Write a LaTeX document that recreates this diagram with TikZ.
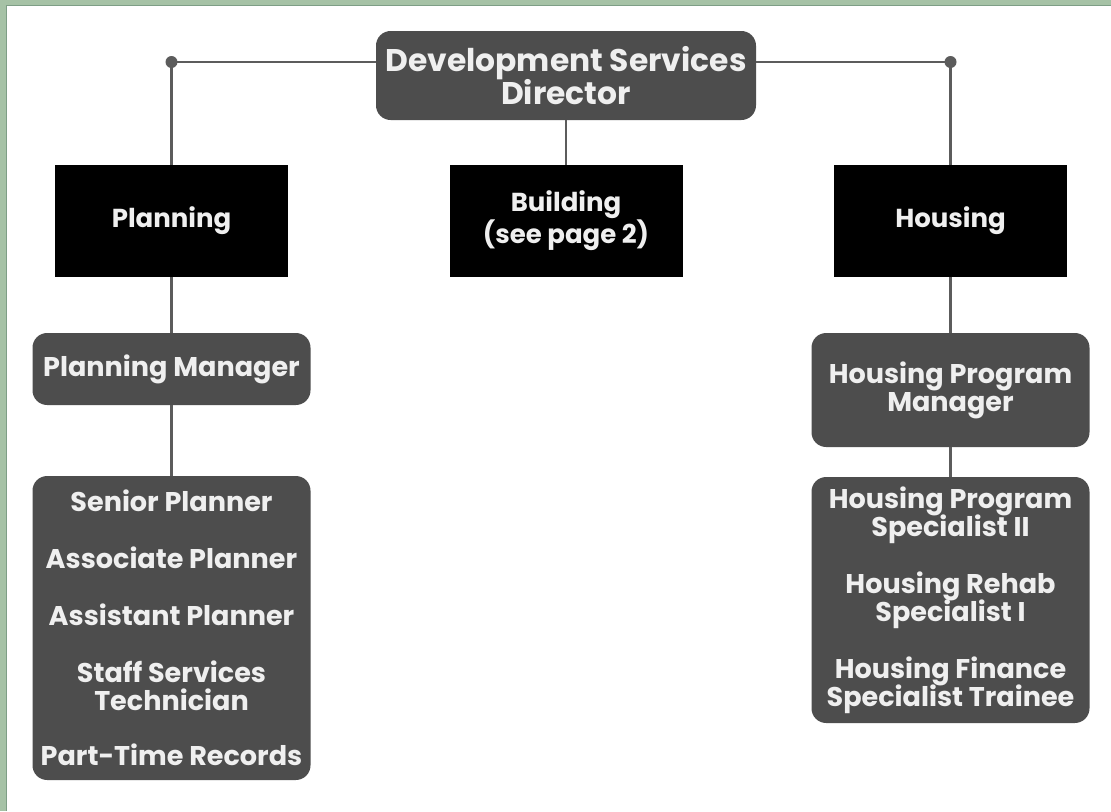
\documentclass[tikz,border=0pt]{standalone}
\usepackage{fontspec}
\setmainfont{Poppins}
\definecolor{boxgray}{HTML}{4D4D4D}
\definecolor{linegray}{HTML}{5C5C5C}
\definecolor{textwhite}{HTML}{EFEFEF}
\definecolor{framegreen}{HTML}{A6C2A6}
\definecolor{framedark}{HTML}{7E9E86}
\newcommand{\tightlines}{\lineskiplimit-50pt\relax}
\tikzset{
  deptbox/.style={fill=black, text=textwhite, align=center, inner sep=0pt,
    minimum width=174.75pt, minimum height=84pt,
    font=\bfseries\fontsize{19.5pt}{24pt}\selectfont\tightlines},
  rolebox/.style={fill=boxgray, text=textwhite, align=center, inner sep=0pt,
    rounded corners=11pt, minimum width=208.5pt,
    font=\bfseries\fontsize{20.3pt}{21pt}\selectfont\tightlines},
  link/.style={draw=linegray, line width=2.2pt},
  joint/.style={circle, fill=linegray, inner sep=0pt, minimum size=9pt}
}
\begin{document}
\begin{tikzpicture}[x=0.75pt,y=0.75pt,yscale=-1,xscale=1]
		\useasboundingbox (0,0) rectangle (1111,811);
		%page and green frame
		\fill[white] (0,0) rectangle (1111,811);
		\fill[framegreen] (0,0) rectangle (1111,6);
		\fill[framegreen] (0,0) rectangle (7,811);
		\draw[framedark, line width=1.2pt] (6.5,811) -- (6.5,5.5) -- (1111,5.5);
		
		% Director
		\node[rolebox, minimum width=285pt, minimum height=66.75pt, font=\bfseries\fontsize{23.5pt}{24.75pt}\selectfont\tightlines] (dir) at (566,75.5) {Development Services\\Director};
		% Departments
		\node[deptbox] (plan) at (171.5,221) {Planning};
		\node[deptbox] (bldg) at (566,221) {Building\\(see page 2)};
		\node[deptbox] (hous) at (950.5,221) {Housing};
		% Planning column
		\node[rolebox, minimum height=54pt] (planmgr) at (171.5,369) {Planning Manager};
		\node[rolebox, minimum height=228pt] (planstaff) at (171.5,628) {Senior Planner\\[21.75pt]Associate Planner\\[21.75pt]Assistant Planner\\[21.75pt]Staff Services\\Technician\\[20.5pt]Part-Time Records};
		% Housing column
		\node[rolebox, minimum height=85.5pt] (housmgr) at (950.5,390) {Housing Program\\Manager};
		\node[rolebox, minimum height=184.5pt] (housstaff) at (950.5,600) {Housing Program\\Specialist II\\[21.75pt]Housing Rehab\\Specialist I\\[21.75pt]Housing Finance\\Specialist Trainee};
		
		% Joints
		\coordinate (jl) at (171.5,62);
		\coordinate (jr) at (950.5,62);
		
		% Connectors
		\draw[link] (dir.west |- jl) -- (jl) -- (plan.north);
		\draw[link] (dir.east |- jr) -- (jr) -- (hous.north);
		\draw[link] (dir) -- (bldg);
		\draw[link] (plan) -- (planmgr);
		\draw[link] (planmgr) -- (planstaff);
		\draw[link] (hous) -- (housmgr);
		\draw[link] (housmgr) -- (housstaff);
		\node[joint] (dotl) at (jl) {};
		\node[joint] (dotr) at (jr) {};
	\end{tikzpicture}
\end{document}
